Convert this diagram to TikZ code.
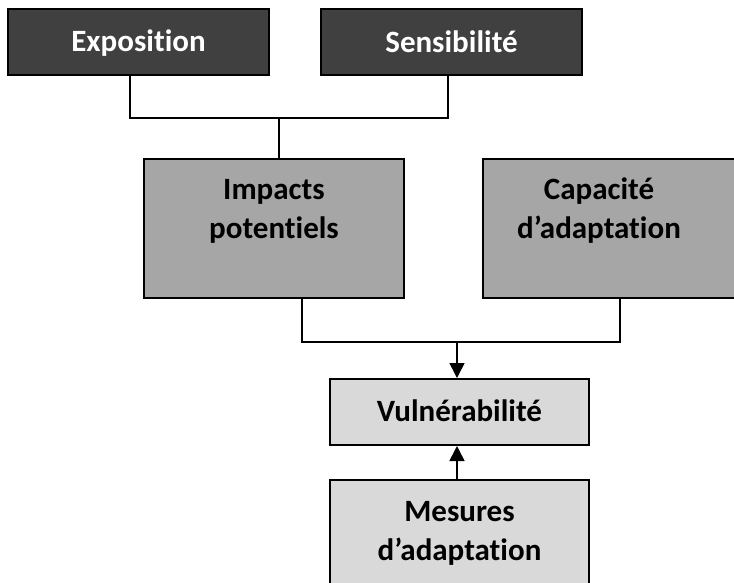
\documentclass[tikz,border=0pt]{standalone}
\usepackage{fontspec}
\setmainfont{Carlito}[Ligatures=NoCommon]
\usetikzlibrary{arrows.meta}
\definecolor{darkfill}{HTML}{404040}
\definecolor{midfill}{HTML}{A6A6A6}
\definecolor{lightfill}{HTML}{D9D9D9}
\begin{document}
\begin{tikzpicture}[x=1pt,y=-1pt,
  box/.style={draw=black, line width=2pt, inner sep=0pt},
  darkbox/.style={box, fill=darkfill, minimum width=261pt, minimum height=66pt},
  midbox/.style={box, fill=midfill, minimum width=260pt, minimum height=139pt},
  lightbox/.style={box, fill=lightfill, minimum width=259pt},
  lbl/.style={font=\bfseries\fontsize{31}{38.5}\selectfont, align=center, anchor=base, inner sep=0pt},
  conn/.style={line width=1.6pt},
  arr/.style={conn, -{Triangle[length=15pt,width=15pt]}}
]
\useasboundingbox (0,0) rectangle (734,582);
\clip (0,0) rectangle (734,582);
% boxes
\node[darkbox] (expo) at (138.5,42) {};
\node[darkbox] (sens) at (451.5,42) {};
\node[midbox] (imp) at (274,228.5) {};
\node[midbox] (cap) at (613,228.5) {};
\node[lightbox, minimum height=66pt] (vul) at (459.5,412) {};
\node[lightbox, minimum height=139pt] (mes) at (459.5,549.5) {};
% labels (base = last line)
\node[lbl, text=white] (expoT) at (138.5,51) {Exposition};
\node[lbl, text=white] (sensT) at (451.5,52) {Sensibilité};
\node[lbl] (impT) at (274,238) {Impacts\\potentiels};
\node[lbl] (capT) at (599,238) {Capacité\\d’adaptation};
\node[lbl] (vulT) at (459.5,421) {Vulnérabilité};
\node[lbl] (mesT) at (459.5,560) {Mesures\\d’adaptation};
% connectors
\coordinate (ja) at (130,118);
\coordinate (jb) at (448,118);
\coordinate (jc) at (279,118);
\draw[conn] (expo.south -| ja) -- (ja) -- (jb) -- (sens.south -| jb);
\draw[conn] (jc) -- (imp.north -| jc);
\coordinate (jl) at (302,342);
\coordinate (jr) at (620,342);
\coordinate (jm) at (457,342);
\draw[conn] (imp.south -| jl) -- (jl) -- (jr) -- (cap.south -| jr);
\draw[arr] (jm) -- (vul.north -| jm);
\draw[arr] (mes.north -| jm) -- (vul.south -| jm);
\end{tikzpicture}
\end{document}
